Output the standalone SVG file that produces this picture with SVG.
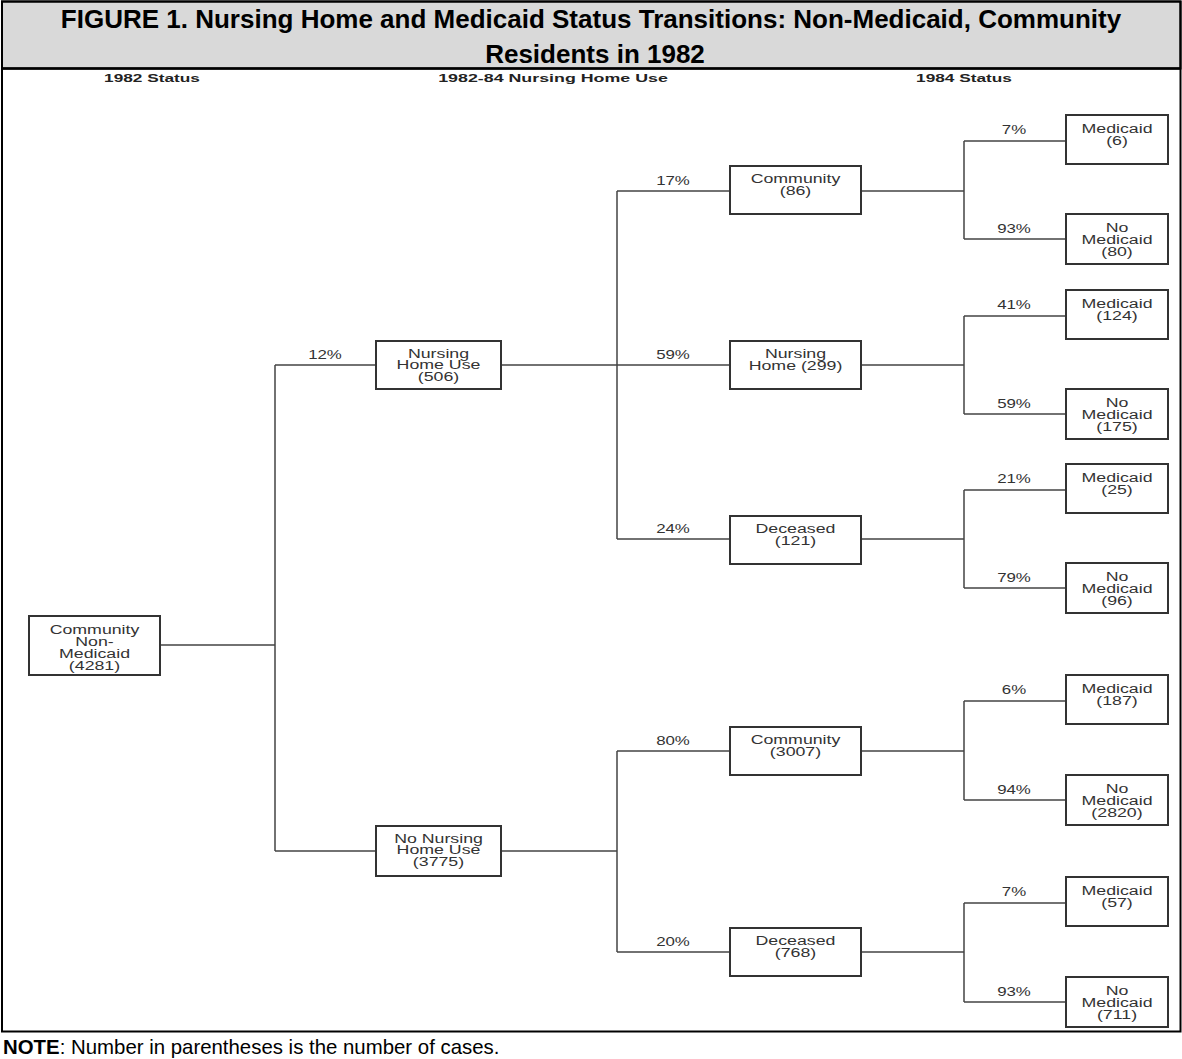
<svg xmlns="http://www.w3.org/2000/svg" width="1182" height="1059" viewBox="0 0 1182 1059">
<style>
.frame{fill:none;stroke:#000;stroke-width:2}
.band{fill:#d9d9d9;stroke:#000;stroke-width:2}
.title{font-family:"Liberation Sans",Arial,sans-serif;font-weight:bold;font-size:26px;fill:#000;text-anchor:middle}
.hdr{font-family:"Liberation Sans",Arial,sans-serif;font-weight:bold;font-size:11.5px;fill:#222;text-anchor:middle}
.box{fill:#fff;stroke:#333;stroke-width:2}
.nt{font-family:"Liberation Sans",Arial,sans-serif;font-size:12.5px;fill:#333;text-anchor:middle}
.pct{font-family:"Liberation Sans",Arial,sans-serif;font-size:12.5px;fill:#333;text-anchor:middle}
.ln{fill:none;stroke:#444;stroke-width:1.5}
.note{font-family:"Liberation Sans",Arial,sans-serif;font-size:20.4px;fill:#000}
</style>
<rect x="0" y="0" width="1182" height="1059" fill="#fff"/>
<g id="frame">
<rect class="band" x="2" y="1.5" width="1178.5" height="67"/>
<rect class="frame" x="2" y="1.5" width="1178.5" height="1030"/>
<line x1="2" y1="68.5" x2="1180.5" y2="68.5" stroke="#000" stroke-width="2.5"/>
<text class="title" x="591" y="28">FIGURE 1. Nursing Home and Medicaid Status Transitions: Non-Medicaid, Community</text>
<text class="title" x="595" y="63">Residents in 1982</text>
</g>
<g id="headers">
<text class="hdr" transform="translate(152 0) scale(1.5 1)" x="0" y="82">1982 Status</text>
<text class="hdr" transform="translate(553 0) scale(1.55 1)" x="0" y="82">1982-84 Nursing Home Use</text>
<text class="hdr" transform="translate(964 0) scale(1.5 1)" x="0" y="82">1984 Status</text>
</g>
<g id="connectors">
<path class="ln" d="M160 645H275M275 365V851M275 365H376M275 851H376"/>
<path class="ln" d="M501 365H617M617 191V539M617 191H730M617 365H730M617 539H730"/>
<path class="ln" d="M501 851H617M617 751V952M617 751H730M617 952H730"/>
<path class="ln" d="M861 191H964M964 141V239M964 141H1066M964 239H1066"/>
<path class="ln" d="M861 365H964M964 316V414M964 316H1066M964 414H1066"/>
<path class="ln" d="M861 539H964M964 490V588M964 490H1066M964 588H1066"/>
<path class="ln" d="M861 751H964M964 701V800M964 701H1066M964 800H1066"/>
<path class="ln" d="M861 952H964M964 903V1002M964 903H1066M964 1002H1066"/>
<g id="pct-labels">
<text class="pct" transform="translate(325 0) scale(1.35 1)" y="359">12%</text>
<text class="pct" transform="translate(673 0) scale(1.35 1)" y="185">17%</text>
<text class="pct" transform="translate(673 0) scale(1.35 1)" y="359">59%</text>
<text class="pct" transform="translate(673 0) scale(1.35 1)" y="533">24%</text>
<text class="pct" transform="translate(673 0) scale(1.35 1)" y="745">80%</text>
<text class="pct" transform="translate(673 0) scale(1.35 1)" y="946">20%</text>
<text class="pct" transform="translate(1014 0) scale(1.35 1)" y="134">7%</text>
<text class="pct" transform="translate(1014 0) scale(1.35 1)" y="233">93%</text>
<text class="pct" transform="translate(1014 0) scale(1.35 1)" y="309">41%</text>
<text class="pct" transform="translate(1014 0) scale(1.35 1)" y="408">59%</text>
<text class="pct" transform="translate(1014 0) scale(1.35 1)" y="483">21%</text>
<text class="pct" transform="translate(1014 0) scale(1.35 1)" y="582">79%</text>
<text class="pct" transform="translate(1014 0) scale(1.35 1)" y="694">6%</text>
<text class="pct" transform="translate(1014 0) scale(1.35 1)" y="794">94%</text>
<text class="pct" transform="translate(1014 0) scale(1.35 1)" y="896">7%</text>
<text class="pct" transform="translate(1014 0) scale(1.35 1)" y="996">93%</text>
</g>
</g>
<g id="n-root"><rect class="box" x="29" y="616" width="131" height="59"/>
<text class="nt" transform="translate(94.5 0) scale(1.42 1)"><tspan x="0" y="634">Community</tspan><tspan x="0" y="646">Non-</tspan><tspan x="0" y="658">Medicaid</tspan><tspan x="0" y="670">(4281)</tspan></text></g>
<g id="n-nh"><rect class="box" x="376" y="341" width="125" height="48"/>
<text class="nt" transform="translate(438.5 0) scale(1.42 1)"><tspan x="0" y="358">Nursing</tspan><tspan x="0" y="369.5">Home Use</tspan><tspan x="0" y="381">(506)</tspan></text></g>
<g id="n-nonh"><rect class="box" x="376" y="826" width="125" height="50"/>
<text class="nt" transform="translate(438.5 0) scale(1.42 1)"><tspan x="0" y="843">No Nursing</tspan><tspan x="0" y="854.5">Home Use</tspan><tspan x="0" y="866">(3775)</tspan></text></g>
<g id="n-comm86"><rect class="box" x="730" y="166" width="131" height="48"/>
<text class="nt" transform="translate(795.5 0) scale(1.42 1)"><tspan x="0" y="183">Community</tspan><tspan x="0" y="195">(86)</tspan></text></g>
<g id="n-nh299"><rect class="box" x="730" y="341" width="131" height="48"/>
<text class="nt" transform="translate(795.5 0) scale(1.42 1)"><tspan x="0" y="358">Nursing</tspan><tspan x="0" y="370">Home (299)</tspan></text></g>
<g id="n-dec121"><rect class="box" x="730" y="516" width="131" height="48"/>
<text class="nt" transform="translate(795.5 0) scale(1.42 1)"><tspan x="0" y="533">Deceased</tspan><tspan x="0" y="545">(121)</tspan></text></g>
<g id="n-comm3007"><rect class="box" x="730" y="727" width="131" height="48"/>
<text class="nt" transform="translate(795.5 0) scale(1.42 1)"><tspan x="0" y="744">Community</tspan><tspan x="0" y="756">(3007)</tspan></text></g>
<g id="n-dec768"><rect class="box" x="730" y="928" width="131" height="48"/>
<text class="nt" transform="translate(795.5 0) scale(1.42 1)"><tspan x="0" y="945">Deceased</tspan><tspan x="0" y="957">(768)</tspan></text></g>
<g id="l1"><rect class="box" x="1066" y="115" width="102" height="49"/>
<text class="nt" transform="translate(1117 0) scale(1.42 1)"><tspan x="0" y="133">Medicaid</tspan><tspan x="0" y="145">(6)</tspan></text></g>
<g id="l2"><rect class="box" x="1066" y="214" width="102" height="50"/>
<text class="nt" transform="translate(1117 0) scale(1.42 1)"><tspan x="0" y="232">No</tspan><tspan x="0" y="244">Medicaid</tspan><tspan x="0" y="256">(80)</tspan></text></g>
<g id="l3"><rect class="box" x="1066" y="290" width="102" height="49"/>
<text class="nt" transform="translate(1117 0) scale(1.42 1)"><tspan x="0" y="308">Medicaid</tspan><tspan x="0" y="320">(124)</tspan></text></g>
<g id="l4"><rect class="box" x="1066" y="389" width="102" height="50"/>
<text class="nt" transform="translate(1117 0) scale(1.42 1)"><tspan x="0" y="407">No</tspan><tspan x="0" y="419">Medicaid</tspan><tspan x="0" y="431">(175)</tspan></text></g>
<g id="l5"><rect class="box" x="1066" y="464" width="102" height="49"/>
<text class="nt" transform="translate(1117 0) scale(1.42 1)"><tspan x="0" y="482">Medicaid</tspan><tspan x="0" y="494">(25)</tspan></text></g>
<g id="l6"><rect class="box" x="1066" y="563" width="102" height="50"/>
<text class="nt" transform="translate(1117 0) scale(1.42 1)"><tspan x="0" y="581">No</tspan><tspan x="0" y="593">Medicaid</tspan><tspan x="0" y="605">(96)</tspan></text></g>
<g id="l7"><rect class="box" x="1066" y="675" width="102" height="49"/>
<text class="nt" transform="translate(1117 0) scale(1.42 1)"><tspan x="0" y="693">Medicaid</tspan><tspan x="0" y="705">(187)</tspan></text></g>
<g id="l8"><rect class="box" x="1066" y="775" width="102" height="50"/>
<text class="nt" transform="translate(1117 0) scale(1.42 1)"><tspan x="0" y="793">No</tspan><tspan x="0" y="805">Medicaid</tspan><tspan x="0" y="817">(2820)</tspan></text></g>
<g id="l9"><rect class="box" x="1066" y="877" width="102" height="49"/>
<text class="nt" transform="translate(1117 0) scale(1.42 1)"><tspan x="0" y="895">Medicaid</tspan><tspan x="0" y="907">(57)</tspan></text></g>
<g id="l10"><rect class="box" x="1066" y="977" width="102" height="50"/>
<text class="nt" transform="translate(1117 0) scale(1.42 1)"><tspan x="0" y="995">No</tspan><tspan x="0" y="1007">Medicaid</tspan><tspan x="0" y="1019">(711)</tspan></text></g>
<g id="note"><text class="note" x="3" y="1054"><tspan font-weight="bold">NOTE</tspan>: Number in parentheses is the number of cases.</text></g>
</svg>
